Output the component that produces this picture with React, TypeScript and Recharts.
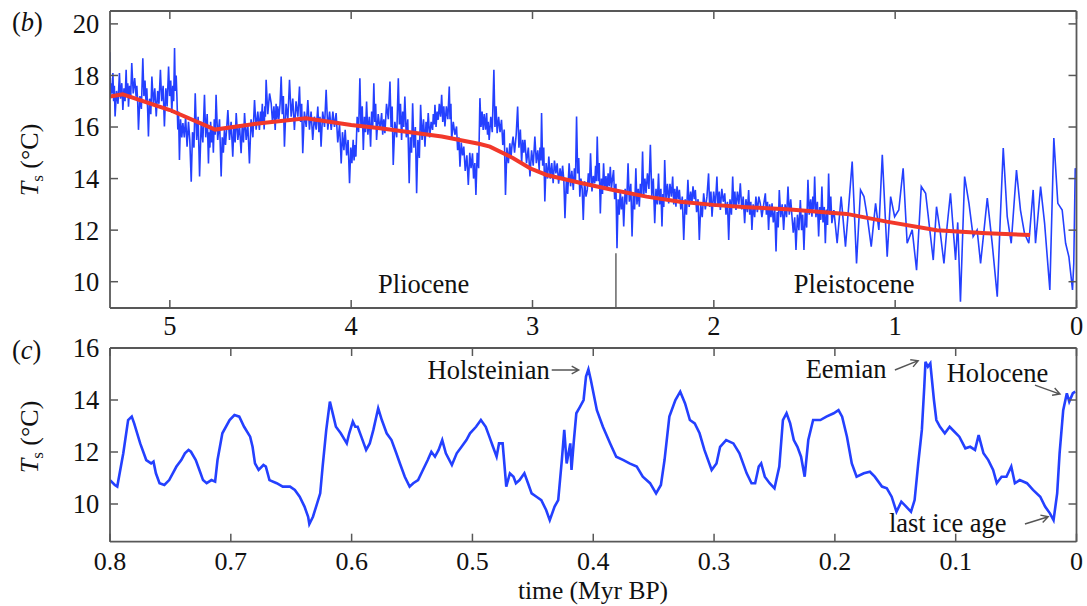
import React from 'react';
import { LineChart, Line, XAxis, YAxis, ReferenceLine, ReferenceDot } from 'recharts';

const FONT = '"Liberation Serif", "Times New Roman", Times, serif';

// ---------- panel (b): last 5.3 Myr ----------
// early Pliocene part (5.33 - 3.30 Myr BP)
const plioEarlyTime = [
  5.33, 5.329, 5.328, 5.327, 5.323, 5.318, 5.314, 5.31, 5.306, 5.302, 5.294, 5.286, 5.278, 5.272, 5.265,
  5.259, 5.253, 5.247, 5.241, 5.237, 5.232, 5.228, 5.222, 5.216, 5.21, 5.202, 5.194, 5.186, 5.182, 5.177,
  5.173, 5.165, 5.157, 5.149, 5.143, 5.137, 5.131, 5.127, 5.122, 5.118, 5.112, 5.105, 5.099, 5.091, 5.083,
  5.075, 5.067, 5.06, 5.052, 5.045, 5.037, 5.03, 5.022, 5.015, 5.007, 5.001, 4.995, 4.989, 4.984, 4.979,
  4.974, 4.97, 4.965, 4.961, 4.956, 4.952, 4.947, 4.941, 4.934, 4.928, 4.92, 4.913, 4.905, 4.897, 4.89,
  4.882, 4.875, 4.867, 4.86, 4.852, 4.844, 4.836, 4.827, 4.818, 4.809, 4.802, 4.794, 4.787, 4.783, 4.779,
  4.775, 4.77, 4.765, 4.76, 4.755, 4.75, 4.745, 4.736, 4.726, 4.717, 4.711, 4.705, 4.699, 4.693, 4.686,
  4.68, 4.671, 4.662, 4.653, 4.647, 4.64, 4.634, 4.625, 4.616, 4.607, 4.601, 4.594, 4.588, 4.579, 4.57,
  4.561, 4.552, 4.542, 4.533, 4.524, 4.515, 4.506, 4.5, 4.495, 4.49, 4.487, 4.483, 4.48, 4.476, 4.473,
  4.469, 4.46, 4.45, 4.441, 4.434, 4.426, 4.419, 4.414, 4.41, 4.405, 4.399, 4.392, 4.386, 4.38, 4.374,
  4.368, 4.359, 4.349, 4.34, 4.331, 4.322, 4.313, 4.304, 4.294, 4.285, 4.279, 4.273, 4.267, 4.258, 4.248,
  4.239, 4.23, 4.221, 4.212, 4.203, 4.193, 4.184, 4.178, 4.172, 4.166, 4.157, 4.147, 4.138, 4.129, 4.119,
  4.11, 4.101, 4.092, 4.083, 4.074, 4.064, 4.055, 4.048, 4.04, 4.033, 4.025, 4.017, 4.009, 4.002, 3.996,
  3.989, 3.984, 3.979, 3.974, 3.967, 3.959, 3.952, 3.946, 3.939, 3.933, 3.927, 3.921, 3.915, 3.908, 3.9,
  3.893, 3.887, 3.881, 3.875, 3.87, 3.865, 3.86, 3.851, 3.841, 3.832, 3.826, 3.82, 3.814, 3.805, 3.795,
  3.786, 3.78, 3.774, 3.768, 3.759, 3.749, 3.74, 3.734, 3.728, 3.722, 3.716, 3.71, 3.704, 3.696, 3.688,
  3.68, 3.674, 3.667, 3.661, 3.654, 3.646, 3.639, 3.632, 3.624, 3.617, 3.609, 3.601, 3.593, 3.587, 3.581,
  3.575, 3.567, 3.559, 3.551, 3.547, 3.542, 3.538, 3.532, 3.526, 3.52, 3.514, 3.507, 3.501, 3.495, 3.489,
  3.483, 3.475, 3.467, 3.459, 3.455, 3.45, 3.446, 3.437, 3.428, 3.419, 3.413, 3.406, 3.4, 3.393, 3.386,
  3.379, 3.371, 3.362, 3.354, 3.346, 3.339, 3.331, 3.325, 3.318, 3.312, 3.305, 3.297,
];
const plioEarlyTemp = [
  18.9, 17.4, 17.9, 17.18, 17.7, 17.3, 18.09, 17.0, 17.6, 16.41, 17.4, 16.9, 18.09, 17.1, 17.7,
  16.66, 17.5, 17.0, 18.22, 17.2, 17.7, 16.79, 17.6, 17.1, 18.48, 17.3, 17.9, 17.18, 17.6, 16.9,
  15.89, 17.2, 16.7, 18.67, 17.2, 17.8, 16.92, 17.5, 16.6, 15.63, 17.1, 16.5, 17.96, 16.9, 17.5,
  16.41, 17.4, 16.9, 18.22, 17.0, 17.6, 16.02, 17.5, 16.8, 18.35, 17.2, 17.8, 16.54, 17.6, 17.0,
  19.06, 17.4, 18.0, 17.18, 15.9, 16.6, 14.72, 16.3, 15.6, 16.15, 15.6, 16.4, 15.24, 16.2, 15.5,
  13.88, 15.8, 15.2, 17.31, 15.5, 16.4, 14.08, 16.2, 15.4, 17.25, 15.6, 16.5, 14.59, 15.8, 15.2,
  16.2, 15.4, 16.0, 15.0, 16.3, 15.7, 17.25, 15.5, 16.3, 14.08, 15.6, 15.0, 15.89, 15.3, 16.0,
  16.66, 15.5, 16.2, 14.85, 16.0, 15.4, 16.54, 15.5, 16.1, 14.98, 16.0, 15.4, 16.54, 15.5, 16.1,
  14.59, 16.3, 15.6, 17.05, 15.9, 16.6, 15.89, 16.6, 16.2, 16.9, 16.2, 16.6, 15.9, 16.8, 16.4,
  17.83, 16.5, 17.3, 16.92, 16.2, 16.8, 15.89, 16.9, 16.3, 16.8, 16.3, 16.9, 17.96, 16.5, 17.2,
  15.24, 16.9, 16.3, 17.83, 16.4, 17.1, 15.89, 17.0, 16.4, 17.57, 16.2, 16.9, 14.98, 16.6, 16.0,
  17.05, 15.9, 16.6, 15.5, 16.4, 15.9, 16.79, 15.8, 16.4, 15.24, 16.6, 16.0, 17.44, 15.9, 16.6,
  15.89, 16.6, 16.0, 16.54, 15.4, 16.1, 14.59, 15.8, 15.1, 15.89, 14.9, 15.5, 13.82, 15.2, 14.6,
  15.5, 14.7, 15.3, 14.85, 16.4, 15.8, 17.89, 16.0, 16.8, 15.11, 16.4, 15.8, 16.99, 15.7, 16.4,
  15.24, 16.6, 16.0, 17.7, 16.2, 16.9, 15.5, 16.5, 15.9, 16.54, 15.7, 16.3, 15.76, 16.9, 16.3,
  17.76, 16.0, 16.8, 14.53, 16.2, 15.6, 17.89, 16.1, 16.9, 15.5, 16.6, 16.0, 17.18, 15.6, 16.3,
  13.82, 15.6, 15.0, 16.92, 15.2, 16.0, 13.43, 15.5, 14.8, 16.86, 15.5, 16.3, 15.24, 16.2, 15.7,
  16.54, 15.6, 16.2, 15.89, 16.5, 16.1, 16.86, 16.0, 16.6, 16.28, 16.9, 16.4, 17.25, 16.2, 16.8,
  16.02, 16.8, 16.3, 17.57, 16.3, 16.9, 15.5, 16.2, 15.7, 16.02, 15.1, 15.6, 14.46, 15.4, 14.9,
  15.24, 14.3, 14.9, 13.75, 15.0, 14.4, 14.98, 14.0, 14.6, 13.36, 15.0, 14.4,
];
// late Pliocene and early Pleistocene part (3.29 - 1.35 Myr BP)
const plioMidTime = [
  3.29, 3.284, 3.278, 3.272, 3.266, 3.259, 3.253, 3.248, 3.244, 3.239, 3.23, 3.222, 3.213, 3.207, 3.201,
  3.195, 3.187, 3.179, 3.171, 3.164, 3.156, 3.149, 3.141, 3.133, 3.125, 3.119, 3.113, 3.107, 3.099, 3.09,
  3.082, 3.075, 3.067, 3.06, 3.054, 3.048, 3.042, 3.033, 3.023, 3.014, 3.005, 2.996, 2.987, 2.979, 2.971,
  2.963, 2.959, 2.954, 2.95, 2.944, 2.938, 2.932, 2.925, 2.917, 2.91, 2.902, 2.894, 2.886, 2.879, 2.871,
  2.864, 2.856, 2.848, 2.84, 2.834, 2.827, 2.821, 2.813, 2.806, 2.798, 2.79, 2.783, 2.775, 2.769, 2.763,
  2.757, 2.751, 2.745, 2.739, 2.733, 2.726, 2.72, 2.713, 2.705, 2.698, 2.692, 2.686, 2.68, 2.672, 2.665,
  2.657, 2.652, 2.648, 2.643, 2.637, 2.632, 2.626, 2.62, 2.614, 2.608, 2.602, 2.595, 2.589, 2.583, 2.577,
  2.571, 2.565, 2.559, 2.553, 2.547, 2.54, 2.534, 2.528, 2.522, 2.516, 2.51, 2.503, 2.497, 2.489, 2.481,
  2.473, 2.466, 2.458, 2.451, 2.444, 2.437, 2.43, 2.424, 2.417, 2.411, 2.405, 2.399, 2.393, 2.387, 2.38,
  2.374, 2.366, 2.358, 2.35, 2.342, 2.334, 2.326, 2.319, 2.312, 2.305, 2.299, 2.292, 2.286, 2.281, 2.276,
  2.271, 2.264, 2.256, 2.249, 2.242, 2.234, 2.227, 2.221, 2.215, 2.209, 2.203, 2.196, 2.19, 2.182, 2.174,
  2.166, 2.158, 2.151, 2.143, 2.136, 2.128, 2.121, 2.115, 2.108, 2.102, 2.095, 2.087, 2.08, 2.072, 2.064,
  2.056, 2.047, 2.038, 2.029, 2.023, 2.016, 2.01, 2.001, 1.992, 1.983, 1.977, 1.97, 1.964, 1.956, 1.948,
  1.94, 1.933, 1.925, 1.918, 1.911, 1.903, 1.896, 1.89, 1.884, 1.878, 1.87, 1.862, 1.854, 1.846, 1.838,
  1.83, 1.823, 1.815, 1.808, 1.802, 1.796, 1.79, 1.783, 1.775, 1.768, 1.76, 1.752, 1.744, 1.735, 1.725,
  1.716, 1.71, 1.704, 1.698, 1.692, 1.685, 1.679, 1.672, 1.664, 1.657, 1.651, 1.645, 1.639, 1.631, 1.623,
  1.615, 1.607, 1.599, 1.591, 1.584, 1.576, 1.569, 1.562, 1.554, 1.547, 1.539, 1.531, 1.523, 1.516, 1.51,
  1.503, 1.496, 1.488, 1.481, 1.474, 1.466, 1.459, 1.454, 1.449, 1.444, 1.437, 1.429, 1.422, 1.416, 1.41,
  1.404, 1.398, 1.391, 1.385, 1.379, 1.373, 1.367, 1.361, 1.355, 1.349,
];
const plioMidTemp = [
  17.12, 16.0, 16.6, 15.89, 16.5, 15.9, 16.54, 15.7, 16.2, 15.5, 16.4, 15.8, 18.22, 16.0, 16.8,
  15.76, 16.4, 15.8, 16.28, 15.3, 15.9, 13.36, 15.2, 14.6, 15.37, 14.8, 15.3, 15.63, 15.0, 15.7,
  16.79, 15.2, 15.9, 14.59, 15.5, 15.0, 15.5, 14.6, 15.2, 14.08, 15.1, 14.5, 15.63, 14.6, 15.1,
  14.33, 15.2, 14.7, 16.54, 14.5, 15.2, 13.11, 14.6, 14.0, 14.85, 14.0, 14.6, 13.82, 14.7, 14.2,
  14.59, 13.8, 14.4, 13.95, 14.5, 13.9, 12.46, 14.0, 13.4, 14.59, 13.7, 14.3, 13.56, 14.4, 13.9,
  16.41, 14.2, 14.8, 13.3, 14.0, 13.6, 12.39, 13.9, 13.3, 13.56, 14.2, 13.7, 14.98, 13.5, 14.1,
  13.82, 14.5, 13.9, 15.63, 13.9, 14.6, 12.65, 14.0, 13.4, 14.59, 13.6, 14.1, 13.56, 14.2, 13.7,
  14.46, 13.6, 14.0, 14.33, 13.2, 13.8, 11.3, 13.2, 12.6, 13.56, 12.8, 13.3, 12.14, 13.6, 13.0,
  14.59, 13.1, 13.8, 11.75, 13.4, 12.8, 14.4, 13.0, 13.6, 12.91, 13.8, 13.3, 15.05, 13.3, 14.0,
  13.43, 14.2, 13.6, 15.31, 13.3, 14.0, 12.27, 13.6, 13.0, 14.2, 13.0, 13.6, 12.14, 13.4, 12.9,
  14.72, 13.2, 13.8, 13.04, 13.8, 13.3, 14.08, 13.0, 13.6, 12.91, 13.7, 13.2, 13.56, 12.8, 13.3,
  11.62, 13.2, 12.6, 13.95, 12.9, 13.5, 13.04, 13.7, 13.2, 13.56, 12.7, 13.2, 11.62, 13.0, 12.5,
  13.43, 12.8, 13.3, 14.2, 12.9, 13.5, 12.52, 13.5, 12.9, 14.08, 12.9, 13.5, 12.78, 13.6, 13.1,
  13.43, 12.6, 13.1, 11.62, 13.2, 12.6, 14.08, 12.9, 13.5, 12.78, 13.5, 13.0, 13.82, 12.8, 13.3,
  12.27, 13.2, 12.7, 13.56, 12.6, 13.1, 12.01, 13.0, 12.5, 13.3, 12.7, 13.3, 13.04, 12.5, 13.0,
  13.43, 12.6, 13.1, 12.01, 13.0, 12.5, 13.04, 12.3, 12.8, 11.17, 12.7, 12.1, 13.56, 12.5, 13.0,
  12.01, 13.0, 12.5, 13.69, 12.6, 13.2, 12.52, 11.9, 12.5, 11.23, 12.6, 12.0, 13.17, 12.0, 12.6,
  11.23, 12.7, 12.1, 13.95, 12.6, 13.2, 12.52, 13.3, 12.8, 14.08, 12.5, 13.1, 11.75, 12.9, 12.4,
  13.69, 12.3, 12.9, 11.49, 12.8, 12.2, 14.2, 12.6, 13.3, 12.27,
];
// Pleistocene part (1.34 - 0 Myr BP)
const plioLateTime = [
  1.338, 1.32, 1.298, 1.274, 1.255, 1.237, 1.213, 1.191, 1.172, 1.154, 1.132, 1.108, 1.09, 1.071, 1.044,
  1.025, 1.003, 0.98, 0.956, 0.934, 0.906, 0.882, 0.856, 0.832, 0.809, 0.79, 0.772, 0.753, 0.731, 0.713, 0.695,
  0.667, 0.655, 0.64, 0.617, 0.593, 0.57, 0.548, 0.529, 0.51, 0.492, 0.465, 0.437, 0.42, 0.404, 0.382, 0.36,
  0.331, 0.309, 0.287, 0.263, 0.239, 0.226, 0.198, 0.176, 0.147, 0.125, 0.103, 0.079, 0.06, 0.042, 0.022, 0.015,
  0.007, 0.0,
];
const plioLateTemp = [
  12.78, 11.49, 13.3, 11.36, 13.04, 14.66, 10.71, 13.56, 13.3, 12.52, 11.36, 13.04, 12.01, 14.92, 10.97,
  13.3, 12.52, 12.78, 14.4, 11.49, 12.01, 10.45, 13.69, 13.43, 12.01, 10.84, 12.91, 12.01, 10.71, 12.2, 13.43,
  10.84, 12.3, 9.22, 14.08, 13.04, 11.75, 12.01, 10.71, 12.0, 13.24, 11.49, 9.42, 12.5, 15.18, 12.52, 11.49,
  14.33, 12.78, 11.88, 11.49, 13.56, 11.49, 13.69, 12.27, 9.68, 15.57, 13.04, 12.78, 11.49, 10.97, 9.68, 10.71,
  14.4, 14.2,
];
const trendTime = [5.33, 5.26, 5.0, 4.75, 4.5, 4.25, 4.0, 3.84, 3.5, 3.29, 3.235, 3.106, 3.014, 2.922, 2.739, 2.555, 2.371, 2.187, 2.003, 1.819, 1.598, 1.268, 1.047, 0.771, 0.495, 0.256];
const trendTemp = [17.18, 17.27, 16.66, 15.9, 16.15, 16.34, 16.08, 15.95, 15.63, 15.34, 15.24, 14.79, 14.4, 14.14, 13.84, 13.56, 13.3, 13.1, 12.98, 12.89, 12.81, 12.63, 12.33, 12.0, 11.88, 11.81];

// ---------- panel (c): last 0.8 Myr ----------
const lateTime = [
  0.8, 0.796, 0.794, 0.789, 0.785, 0.782, 0.78, 0.775, 0.77, 0.766, 0.764, 0.762, 0.759, 0.755, 0.751, 0.745,
  0.741, 0.738, 0.735, 0.733, 0.729, 0.726, 0.723, 0.72, 0.716, 0.713, 0.711, 0.707, 0.701, 0.697, 0.693, 0.689,
  0.684, 0.682, 0.68, 0.677, 0.673, 0.671, 0.668, 0.662, 0.657, 0.651, 0.647, 0.643, 0.639, 0.636, 0.635, 0.632,
  0.629, 0.626, 0.624, 0.621, 0.618, 0.615, 0.613, 0.609, 0.604, 0.602, 0.599, 0.597, 0.595, 0.592, 0.588, 0.585,
  0.582, 0.578, 0.575, 0.571, 0.567, 0.563, 0.56, 0.556, 0.552, 0.549, 0.545, 0.541, 0.537, 0.534, 0.531, 0.528,
  0.525, 0.522, 0.517, 0.513, 0.509, 0.505, 0.502, 0.497, 0.493, 0.489, 0.486, 0.483, 0.48, 0.478, 0.475, 0.472,
  0.469, 0.466, 0.464, 0.461, 0.457, 0.454, 0.451, 0.447, 0.443, 0.439, 0.436, 0.432, 0.429, 0.426, 0.424, 0.422,
  0.419, 0.418, 0.416, 0.414, 0.411, 0.408, 0.406, 0.404, 0.402, 0.397, 0.392, 0.386, 0.381, 0.375, 0.37, 0.364,
  0.359, 0.353, 0.348, 0.344, 0.341, 0.337, 0.332, 0.328, 0.324, 0.32, 0.316, 0.312, 0.308, 0.302, 0.298, 0.295,
  0.29, 0.284, 0.279, 0.273, 0.269, 0.266, 0.263, 0.261, 0.258, 0.254, 0.25, 0.246, 0.243, 0.24, 0.237, 0.234,
  0.231, 0.228, 0.225, 0.222, 0.218, 0.212, 0.207, 0.201, 0.197, 0.194, 0.19, 0.186, 0.182, 0.176, 0.171, 0.167,
  0.161, 0.157, 0.153, 0.149, 0.145, 0.141, 0.137, 0.134, 0.131, 0.128, 0.126, 0.125, 0.123, 0.121, 0.118, 0.116,
  0.113, 0.109, 0.105, 0.101, 0.097, 0.092, 0.088, 0.084, 0.081, 0.077, 0.073, 0.069, 0.066, 0.062, 0.058, 0.054,
  0.051, 0.047, 0.041, 0.036, 0.03, 0.026, 0.022, 0.019, 0.016, 0.014, 0.011, 0.008, 0.006, 0.003, 0.001,
];
const lateTemp = [
  10.92, 10.73, 10.67, 11.95, 13.23, 13.36, 13.1, 12.33, 11.69, 11.56, 11.63, 11.18, 10.8, 10.73, 10.92, 11.44,
  11.69, 11.95, 12.08, 12.01, 11.69, 11.31, 10.92, 10.8, 10.92, 10.86, 11.69, 12.72, 13.23, 13.42, 13.36, 12.97,
  12.59, 12.2, 11.56, 11.31, 11.5, 11.44, 10.92, 10.8, 10.67, 10.67, 10.54, 10.28, 9.9, 9.51, 9.23, 9.51,
  9.96, 10.41, 11.44, 12.85, 13.94, 13.36, 12.97, 12.72, 12.33, 12.72, 13.17, 12.97, 12.97, 12.59, 12.08, 12.33,
  12.85, 13.68, 13.23, 12.72, 12.46, 11.95, 11.56, 11.05, 10.67, 10.8, 10.92, 11.31, 11.69, 12.01, 11.82, 12.08,
  12.46, 11.95, 11.5, 11.95, 12.2, 12.46, 12.72, 12.97, 13.23, 12.97, 12.59, 12.2, 11.82, 12.33, 12.33, 10.67,
  11.18, 11.05, 10.8, 10.92, 11.18, 10.8, 10.41, 10.28, 10.15, 9.77, 9.38, 9.9, 10.15, 11.69, 12.85, 11.56,
  12.33, 11.31, 12.46, 13.49, 13.74, 14.0, 14.9, 15.18, 14.77, 13.61, 12.97, 12.33, 11.82, 11.69, 11.56, 11.44,
  11.05, 10.8, 10.41, 10.73, 11.69, 13.36, 14.0, 14.32, 13.87, 13.23, 13.1, 12.72, 12.08, 11.31, 11.56, 12.2,
  12.46, 12.33, 11.95, 11.18, 10.8, 10.8, 11.44, 11.56, 11.05, 10.8, 10.6, 11.44, 13.23, 13.49, 13.1, 12.46,
  12.2, 11.82, 11.05, 12.46, 13.23, 13.23, 13.36, 13.49, 13.61, 13.36, 12.59, 11.56, 11.05, 11.18, 11.24, 11.05,
  10.67, 10.6, 10.28, 9.7, 10.09, 9.9, 9.7, 10.15, 11.56, 12.85, 14.51, 15.47, 15.28, 15.41, 14.0, 13.23,
  12.97, 12.72, 12.97, 12.78, 12.59, 12.14, 12.2, 12.08, 12.65, 11.95, 11.69, 11.31, 10.8, 11.05, 11.05, 11.44,
  10.8, 10.92, 10.8, 10.54, 10.28, 9.9, 9.64, 9.38, 10.41, 11.95, 13.61, 14.26, 13.94, 14.26, 14.32,
];

const topXTicks = [5, 4, 3, 2, 1, 0];
const topYTicks = [10, 12, 14, 16, 18, 20];
const botXTicks = [0.8, 0.7, 0.6, 0.5, 0.4, 0.3, 0.2, 0.1, 0];
const botYTicks = [10, 12, 14, 16];

const epochLabels = [
  { name: 'Pliocene', t: 3.6, v: 9.55 },
  { name: 'Pleistocene', t: 1.226, v: 9.55 },
];
const epochBoundary = { t: 2.54, top: 11.1, bottom: 8.98 };
const events = [
  { name: 'Holsteinian', t: 0.404, v: 15.18 },
  { name: 'Eemian', t: 0.125, v: 15.47 },
  { name: 'Holocene', t: 0.003, v: 14.26 },
  { name: 'last ice age', t: 0.019, v: 9.38 },
];

const plioTime = [...plioEarlyTime, ...plioMidTime, ...plioLateTime];
const plioTemp = [...plioEarlyTemp, ...plioMidTemp, ...plioLateTemp];
const plioData = plioTime.map((t, i) => ({ t, v: plioTemp[i] }));
const trendData = trendTime.map((t, i) => ({ t, v: trendTemp[i] }));
const lateData = lateTime.map((t, i) => ({ t, v: lateTemp[i] }));

// layout of the annotation texts/arrows relative to their data anchors (px)
const eventLayout: Record<string, { tx: number; ty: number; a: number[] }> = {
  Holsteinian: { tx: -38.7, ty: 9.2, a: [-36.7, 0.7, -9.7, 0.7] },
  Eemian: { tx: -38.9, ty: 16.5, a: [-30.6, 8.2, -7.3, -1.1] },
  Holocene: { tx: -24.6, ty: -11.5, a: [-37.9, -8.2, -12.9, 0.8] },
  'last ice age': { tx: -46.9, ty: 11.6, a: [-28.6, 3.9, -5.3, -3.4] },
};

const FRAME = '#585858';
const BLUE = '#2440ff';
const RED = '#f2382a';
const FS = 26.5;

function arrowPath(x1: number, y1: number, x2: number, y2: number) {
  const ang = Math.atan2(y2 - y1, x2 - x1);
  const L = 8;
  const w = 0.5;
  const hx1 = x2 - L * Math.cos(ang - w);
  const hy1 = y2 - L * Math.sin(ang - w);
  const hx2 = x2 - L * Math.cos(ang + w);
  const hy2 = y2 - L * Math.sin(ang + w);
  return `M${x1},${y1}L${x2},${y2}M${hx1},${hy1}L${x2},${y2}L${hx2},${hy2}`;
}

const EventMark = (props: any) => {
  const { cx, cy, name } = props;
  const lay = eventLayout[name];
  if (cx == null || cy == null || !lay) return null;
  const [ax1, ay1, ax2, ay2] = lay.a;
  return (
    <g>
      <text x={cx + lay.tx} y={cy + lay.ty} textAnchor="end" fontFamily={FONT} fontSize={FS} fill="#111">
        {name}
      </text>
      <path d={arrowPath(cx + ax1, cy + ay1, cx + ax2, cy + ay2)} stroke="#555" strokeWidth={1.4} fill="none" />
    </g>
  );
};

const EpochMark = (props: any) => {
  const { cx, cy, name } = props;
  if (cx == null || cy == null) return null;
  return (
    <text x={cx} y={cy} textAnchor="middle" fontFamily={FONT} fontSize={FS} fill="#111">
      {name}
    </text>
  );
};

const PanelYLabel = (props: any) => {
  const { panel, py, cy } = props;
  return (
    <g>
      <text x={12} y={py} fontFamily={FONT} fontSize={FS} fill="#111">
        (<tspan fontStyle="italic">{panel}</tspan>)
      </text>
      <text transform={`translate(37.5,${cy}) rotate(-90)`} textAnchor="middle" fontFamily={FONT} fontSize={26} fill="#111">
        <tspan fontStyle="italic">T</tspan>
        <tspan fontSize={17} dy={5}>s</tspan>
        <tspan dy={-5}> (°C)</tspan>
      </text>
    </g>
  );
};

const TimeLabel = () => (
  <text x={593} y={599} textAnchor="middle" fontFamily={FONT} fontSize={25.5} fill="#111">
    time (Myr BP)
  </text>
);

const tickStyle = { fill: '#111', fontSize: FS, fontFamily: FONT };
const botTickStyle = { fill: '#111', fontSize: 26, fontFamily: FONT };
const axisLineStyle = { stroke: FRAME, strokeWidth: 1.8 };
const tickLineStyle = { stroke: FRAME, strokeWidth: 1.5 };
const noLabel = () => '';

export default function App() {
  return (
    <div style={{ position: 'absolute', left: 0, top: 0, width: 1087, height: 606, background: '#fff' }}>
      <div style={{ position: 'absolute', left: 0, top: 0 }}>
        <LineChart width={1087} height={345} margin={{ top: 0, right: 0, bottom: 7, left: 0 }}>
          <XAxis
            dataKey="t"
            type="number"
            domain={[0, 5.33]}
            allowDataOverflow
            reversed
            ticks={topXTicks}
            height={30}
            tickSize={-8}
            tickMargin={15.8}
            tick={tickStyle}
            axisLine={axisLineStyle}
            tickLine={tickLineStyle}
          />
          <XAxis
            xAxisId="top"
            orientation="top"
            dataKey="t"
            type="number"
            domain={[0, 5.33]}
            allowDataOverflow
            reversed
            ticks={topXTicks}
            height={11}
            tickSize={-8}
            tickFormatter={noLabel}
            axisLine={axisLineStyle}
            tickLine={tickLineStyle}
          />
          <YAxis
            type="number"
            domain={[8.98, 20.5]}
            allowDataOverflow
            ticks={topYTicks}
            width={110}
            tickSize={-8}
            tickMargin={18.7}
            tick={tickStyle}
            axisLine={axisLineStyle}
            tickLine={tickLineStyle}
            label={<PanelYLabel panel="b" py={30.5} cy={160} />}
          />
          <YAxis
            yAxisId="right"
            orientation="right"
            type="number"
            domain={[8.98, 20.5]}
            allowDataOverflow
            ticks={topYTicks}
            width={10.5}
            tickSize={-8}
            tickFormatter={noLabel}
            axisLine={axisLineStyle}
            tickLine={tickLineStyle}
          />
          <Line data={trendData} xAxisId="top" yAxisId="right" dataKey="v" stroke="none" dot={false} isAnimationActive={false} />
          <Line data={plioData} dataKey="v" type="linear" stroke={BLUE} strokeWidth={1.6} dot={false} isAnimationActive={false} />
          <Line data={trendData} dataKey="v" type="linear" stroke={RED} strokeWidth={4} dot={false} isAnimationActive={false} />
          <ReferenceLine
            segment={[{ x: epochBoundary.t, y: epochBoundary.top }, { x: epochBoundary.t, y: epochBoundary.bottom }]}
            stroke="#666"
            strokeWidth={1.5}
          />
          {epochLabels.map((e) => (
            <ReferenceDot key={e.name} x={e.t} y={e.v} r={0} shape={(p: any) => <EpochMark {...p} name={e.name} />} />
          ))}
        </LineChart>
      </div>
      <div style={{ position: 'absolute', left: 0, top: 0 }}>
        <LineChart width={1087} height={606} margin={{ top: 330, right: 0, bottom: 0, left: 0 }}>
          <XAxis
            dataKey="t"
            type="number"
            domain={[0, 0.8]}
            allowDataOverflow
            reversed
            ticks={botXTicks}
            height={64.3}
            tickSize={-8}
            tickMargin={18}
            tick={botTickStyle}
            axisLine={axisLineStyle}
            tickLine={tickLineStyle}
            label={<TimeLabel />}
          />
          <XAxis
            xAxisId="top"
            orientation="top"
            dataKey="t"
            type="number"
            domain={[0, 0.8]}
            allowDataOverflow
            reversed
            ticks={botXTicks}
            height={18}
            tickSize={-8}
            tickFormatter={noLabel}
            axisLine={axisLineStyle}
            tickLine={tickLineStyle}
          />
          <YAxis
            type="number"
            domain={[8.55, 16]}
            allowDataOverflow
            ticks={botYTicks}
            width={110}
            tickSize={-8}
            tickMargin={18.7}
            tick={tickStyle}
            axisLine={axisLineStyle}
            tickLine={tickLineStyle}
            label={<PanelYLabel panel="c" py={358.5} cy={437} />}
          />
          <YAxis
            yAxisId="right"
            orientation="right"
            type="number"
            domain={[8.55, 16]}
            allowDataOverflow
            ticks={botYTicks}
            width={10.5}
            tickSize={-8}
            tickFormatter={noLabel}
            axisLine={axisLineStyle}
            tickLine={tickLineStyle}
          />
          <Line data={lateData} xAxisId="top" yAxisId="right" dataKey="v" stroke="none" dot={false} isAnimationActive={false} />
          <Line data={lateData} dataKey="v" type="linear" stroke={BLUE} strokeWidth={2.6} dot={false} isAnimationActive={false} />
          {events.map((e) => (
            <ReferenceDot key={e.name} x={e.t} y={e.v} r={0} shape={(p: any) => <EventMark {...p} name={e.name} />} />
          ))}
        </LineChart>
      </div>
    </div>
  );
}
